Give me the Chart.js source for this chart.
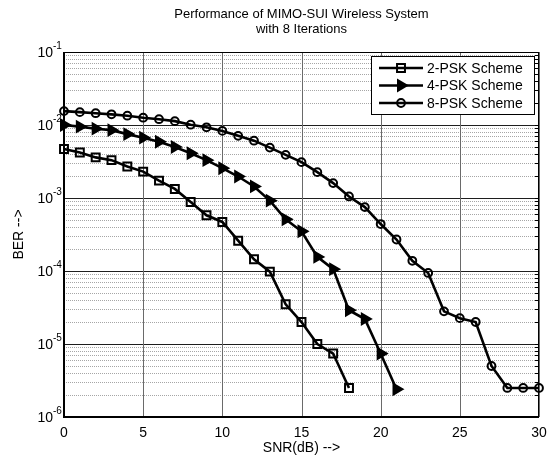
<!DOCTYPE html>
<html>
<head>
<meta charset="utf-8">
<title>Performance of MIMO-SUI Wireless System</title>
<script src="https://cdn.jsdelivr.net/npm/chart.js@4.4.1/dist/chart.umd.min.js"></script>
<style>
  html, body { margin: 0; padding: 0; background: #fff; }
  #berChart { display: block; }
</style>
</head>
<body>
<canvas id="berChart" width="547" height="457"></canvas>
<script>
// ===== BER vs SNR - MIMO-SUI =====

// SNR axis (dB), shared by all curves
const snrValues = [0, 1, 2, 3, 4, 5, 6, 7, 8, 9, 10, 11, 12, 13, 14, 15,
                   16, 17, 18, 19, 20, 21, 22, 23, 24, 25, 26, 27, 28, 29, 30];

// BER
const psk2Ber = [4.7e-3, 4.2e-3, 3.6e-3, 3.3e-3, 2.7e-3, 2.3e-3, 1.73e-3, 1.33e-3,
                 8.8e-4, 5.8e-4, 4.7e-4, 2.6e-4, 1.45e-4, 9.8e-5, 3.5e-5, 2.0e-5,
                 1.0e-5, 7.4e-6, 2.5e-6];
const psk4Ber = [1.0e-2, 9.5e-3, 8.9e-3, 8.5e-3, 7.5e-3, 6.7e-3, 5.9e-3, 5.0e-3,
                 4.1e-3, 3.3e-3, 2.56e-3, 1.97e-3, 1.44e-3, 9.2e-4, 5.1e-4, 3.5e-4,
                 1.56e-4, 1.06e-4, 2.9e-5, 2.2e-5, 7.4e-6, 2.4e-6];
const psk8Ber = [1.55e-2, 1.5e-2, 1.45e-2, 1.4e-2, 1.34e-2, 1.26e-2, 1.2e-2, 1.13e-2,
                 1.01e-2, 9.3e-3, 8.3e-3, 7.1e-3, 6.1e-3, 4.9e-3, 3.9e-3, 3.1e-3,
                 2.26e-3, 1.6e-3, 1.05e-3, 7.5e-4, 4.4e-4, 2.7e-4, 1.38e-4, 9.4e-5,
                 2.8e-5, 2.26e-5, 2.0e-5, 5.0e-6, 2.5e-6, 2.5e-6, 2.5e-6];

const seriesLabels = ['2-PSK Scheme', '4-PSK Scheme', '8-PSK Scheme'];
const xTickValues = [0, 5, 10, 15, 20, 25, 30];
const yDecades = [-6, -5, -4, -3, -2, -1];
const titleLines = ['Performance of MIMO-SUI Wireless System', 'with 8 Iterations'];
const xTitle = 'SNR(dB) -->';
const yTitle = 'BER -->';

const FONT = '"Liberation Sans", Arial, sans-serif';

// marker look per series (legend uses the same)
const markers = [
    { pointStyle: 'rect', radius: 5.6, rotation: 0, fill: 'rgba(0,0,0,0)' },
    { pointStyle: 'triangle', radius: 6, rotation: 90, fill: '#000' },
    { pointStyle: 'circle', radius: 3.9, rotation: 0, fill: 'rgba(0,0,0,0)' }
];

// ==================== HELPERS ====================
function toPoints(values) {
    return values.map((v, i) => ({ x: snrValues[i], y: v }));
}

function makeDataset(idx, values) {
    const m = markers[idx];
    return {
        label: seriesLabels[idx],
        data: toPoints(values),
        borderColor: '#000',
        borderWidth: 2.6,
        tension: 0,
        clip: false,
        pointStyle: m.pointStyle,
        pointRadius: m.radius,
        pointRotation: m.rotation,
        pointBackgroundColor: m.fill,
        pointBorderColor: '#000',
        pointBorderWidth: 2
    };
}

function logTicks() {
    const ticks = [];
    yDecades.forEach(e => {
        for (let m = 1; m <= 9; m++) {
            if (e === -1 && m > 1) break;
            ticks.push({ value: m * Math.pow(10, e) });
        }
    });
    return ticks;
}

function hLine(ctx, a, py) {
    ctx.beginPath();
    ctx.moveTo(a.left, py);
    ctx.lineTo(a.right, py);
    ctx.stroke();
}

// ==================== PLUGINS ====================
const gridPlugin = {
    id: 'berGrid',
    beforeDatasetsDraw(chart) {
        const { ctx, chartArea: a, scales: { x, y } } = chart;
        const allTicks = logTicks();
        ctx.save();
        ctx.lineWidth = 1;

        // minor log lines first (dotted grey), decades on top
        ctx.strokeStyle = '#a6a6a6';
        ctx.setLineDash([1, 1]);
        allTicks.forEach(t => {
            const exp = Math.log10(t.value);
            if (Math.abs(exp - Math.round(exp)) < 1e-6) return;
            hLine(ctx, a, Math.round(y.getPixelForValue(t.value)) + 0.5);
        });
        ctx.setLineDash([]);
        ctx.strokeStyle = '#1e1e1e';
        yDecades.forEach(e => hLine(ctx, a, Math.round(y.getPixelForValue(Math.pow(10, e))) + 0.5));

        ctx.strokeStyle = '#6a6a6a';
        xTickValues.forEach(v => {
            const px = Math.round(x.getPixelForValue(v)) + 0.5;
            ctx.beginPath();
            ctx.moveTo(px, a.top);
            ctx.lineTo(px, a.bottom);
            ctx.stroke();
        });

        // small inside ticks on the right edge
        ctx.strokeStyle = '#000';
        allTicks.forEach(t => {
            const py = Math.round(y.getPixelForValue(t.value)) + 0.5;
            ctx.beginPath();
            ctx.moveTo(a.right - 4, py);
            ctx.lineTo(a.right, py);
            ctx.stroke();
        });

        // frame
        ctx.strokeStyle = '#000';
        ctx.lineWidth = 1;
        ctx.strokeRect(a.left + 0.5, a.top + 0.5, a.right - a.left - 1, a.bottom - a.top - 1);
        ctx.lineWidth = 2;
        ctx.beginPath();
        ctx.moveTo(a.left, a.top);
        ctx.lineTo(a.left, a.bottom);
        ctx.lineTo(a.right, a.bottom);
        ctx.stroke();
        ctx.restore();
    }
};

const labelPlugin = {
    id: 'berLabels',
    afterDraw(chart) {
        const { ctx, chartArea: a, scales: { y } } = chart;
        ctx.save();
        ctx.fillStyle = '#000';

        // title, centred over the plot box
        ctx.font = '13px ' + FONT;
        ctx.textAlign = 'center';
        ctx.textBaseline = 'middle';
        titleLines.forEach((line, i) => {
            ctx.fillText(line, (a.left + a.right) / 2, 14 + i * 15);
        });

        // y tick labels as 10 with a raised exponent
        yDecades.forEach(e => {
            const py = y.getPixelForValue(Math.pow(10, e));
            ctx.font = '14px ' + FONT;
            ctx.textAlign = 'right';
            ctx.textBaseline = 'middle';
            ctx.fillText('10', a.left - 11, py + 1);
            ctx.font = '10px ' + FONT;
            ctx.textAlign = 'left';
            ctx.fillText(String(e), a.left - 11, py - 6);
        });

        // legend box
        const bw = 163, bh = 58;
        const bx = a.right - 5 - bw, by = a.top + 4;
        ctx.fillStyle = '#fff';
        ctx.fillRect(bx, by, bw, bh);
        ctx.strokeStyle = '#000';
        ctx.lineWidth = 1;
        ctx.strokeRect(bx + 0.5, by + 0.5, bw, bh);

        const draw = Chart.helpers && Chart.helpers.drawPoint;
        seriesLabels.forEach((label, i) => {
            const ry = by + 12 + i * 17.5;
            ctx.strokeStyle = '#000';
            ctx.lineWidth = 2.6;
            ctx.beginPath();
            ctx.moveTo(bx + 8, ry);
            ctx.lineTo(bx + 52, ry);
            ctx.stroke();

            const m = markers[i];
            if (draw) {
                ctx.lineWidth = 2;
                ctx.fillStyle = m.fill;
                draw(ctx, { pointStyle: m.pointStyle, radius: m.radius, rotation: m.rotation, borderWidth: 2 }, bx + 30, ry);
            }

            ctx.fillStyle = '#000';
            ctx.font = '14px ' + FONT;
            ctx.textAlign = 'left';
            ctx.textBaseline = 'middle';
            ctx.fillText(label, bx + 56, ry + 1);
        });
        ctx.restore();
    }
};

// ==================== CHART ====================
function renderChart() {
    const canvas = document.getElementById('berChart');

    new Chart(canvas, {
        type: 'line',
        data: {
            datasets: [
                makeDataset(0, psk2Ber),
                makeDataset(1, psk4Ber),
                makeDataset(2, psk8Ber)
            ]
        },
        options: {
            responsive: false,
            animation: false,
            events: [],
            layout: { padding: { left: 0, right: 0, top: 52, bottom: 0 } },
            plugins: {
                legend: { display: false },
                tooltip: { enabled: false },
                title: { display: false }
            },
            scales: {
                x: {
                    type: 'linear',
                    min: 0,
                    max: 30,
                    afterBuildTicks: scale => { scale.ticks = xTickValues.map(v => ({ value: v })); },
                    afterFit: scale => { scale.height = 40; },
                    grid: { display: false },
                    border: { display: false },
                    ticks: {
                        color: '#000',
                        padding: 0,
                        maxRotation: 0,
                        autoSkip: false,
                        font: { family: FONT, size: 14 }
                    },
                    title: {
                        display: true,
                        text: xTitle,
                        color: '#000',
                        font: { family: FONT, size: 14 },
                        padding: { top: 0, bottom: 0 }
                    }
                },
                y: {
                    type: 'logarithmic',
                    min: 1e-6,
                    max: 1e-1,
                    afterBuildTicks: scale => { scale.ticks = logTicks(); },
                    afterFit: scale => { scale.width = 64; },
                    grid: { display: false },
                    border: { display: false },
                    ticks: { callback: () => '', autoSkip: false },
                    title: {
                        display: true,
                        text: yTitle,
                        color: '#000',
                        font: { family: FONT, size: 14 },
                        padding: { top: 11, bottom: 0 }
                    }
                }
            }
        },
        plugins: [gridPlugin, labelPlugin]
    });
}

// ==================== INIT ====================
window.addEventListener('load', () => {
    renderChart();
});
</script>
</body>
</html>
